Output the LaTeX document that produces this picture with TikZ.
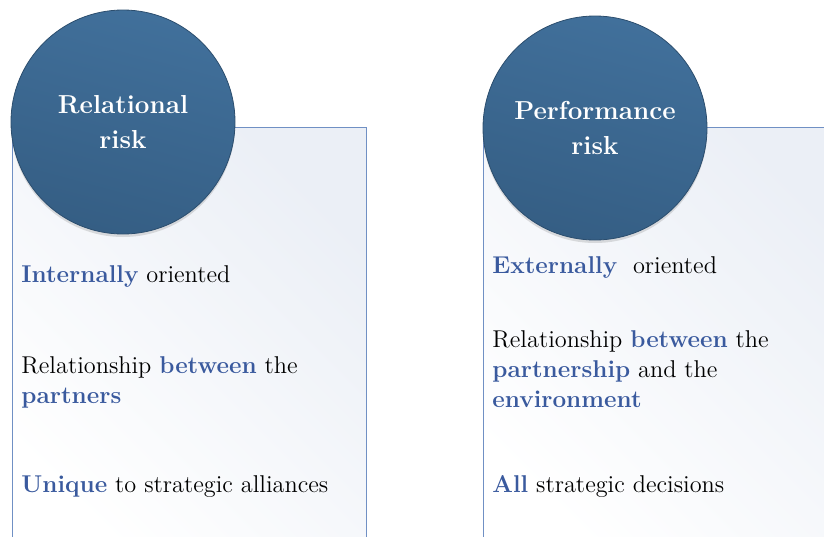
\documentclass[tikz,border=0pt]{standalone}
\usepackage{tikz}
\usetikzlibrary{shadows}

\definecolor{riskblue}{HTML}{41709B}
\definecolor{riskdark}{HTML}{355E84}
\definecolor{riskline}{HTML}{2C4E6E}
\definecolor{boxline}{HTML}{7090C4}
\definecolor{boxtint}{HTML}{EBEFF6}
\definecolor{keyblue}{HTML}{3A5A9E}

\newcommand{\kw}[1]{\textcolor{keyblue}{\textbf{#1}}}

\tikzset{
  riskcirc/.style={circle,minimum size=224*0.5pt,inner sep=0pt,draw=riskline,
    top color=riskblue,bottom color=riskdark,shading angle=-15,
    drop shadow={opacity=0.25,shadow xshift=0pt,shadow yshift=-1.5pt},
    text=white,align=center,font=\fontsize{13}{17.5}\selectfont\bfseries},
  riskbox/.style={draw=boxline,thin,top color=boxtint,bottom color=white,shading angle=-45},
  itemtext/.style={anchor=base west,align=left,inner sep=0pt,font=\fontsize{12.15}{15}\selectfont}
}

\begin{document}
\begin{tikzpicture}[x=0.5pt,y=-0.5pt]
\useasboundingbox (0,0) rectangle (824,536);
\clip (0,0) rectangle (824,536);
\path[riskbox] (12,127) rectangle (366,560);
\path[riskbox] (483,127) rectangle (860,560);
\node[riskcirc] (relcirc) at (123,122) {Relational\\risk};
\node[riskcirc] (perfcirc) at (595,128) {Performance\\risk};
\node[itemtext] (relone) at (21,282) {\kw{Internally} oriented};
\node[itemtext] (reltwo) at (21,403) {Relationship \kw{between} the\\\kw{partners}};
\node[itemtext] (relthree) at (21,492) {\kw{Unique} to strategic alliances};
\node[itemtext] (perfone) at (492,273) {\kw{Externally}\ \ oriented};
\node[itemtext] (perftwo) at (492,407) {Relationship \kw{between} the\\\kw{partnership} and the\\\kw{environment}};
\node[itemtext] (perfthree) at (492,492) {\kw{All} strategic decisions};
\end{tikzpicture}
\end{document}
